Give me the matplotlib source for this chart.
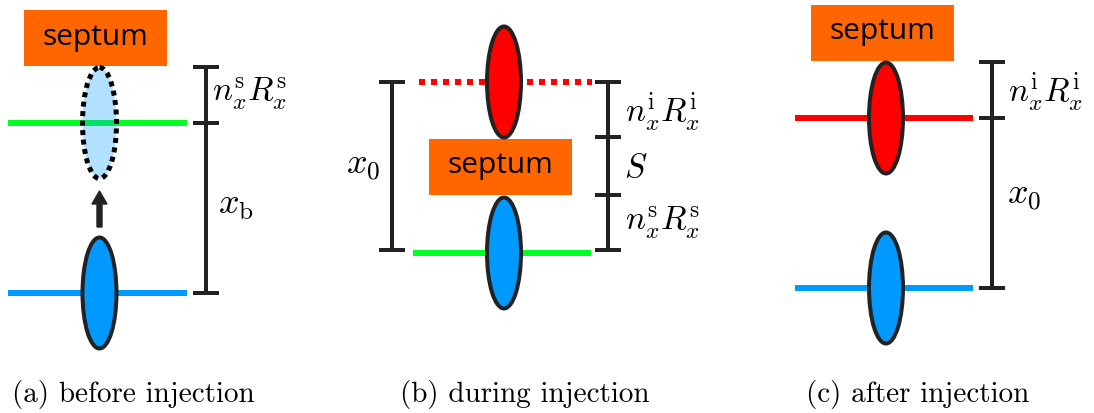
import matplotlib
matplotlib.use("Agg")
import matplotlib.pyplot as plt
from matplotlib.patches import Ellipse, Rectangle, FancyArrow

plt.rcParams['mathtext.fontset'] = 'cm'

# Beam / orbit levels (pixel rows) for each stage
levels_a = {"stored": 293, "bumped": 123}
levels_b = {"injected": 82, "stored": 253}
levels_c = {"injected": 118, "stored": 288}

captions = ["(a) before injection", "(b) during injection", "(c) after injection"]
caption_x = [12, 400, 806]

C_ORANGE = "#FF6600"
C_GREEN = "#00FF22"
C_BLUE = "#0099FF"
C_GHOST = (0.0, 0.6, 1.0, 0.3)
C_RED = "#FF0000"
C_DARK = "#222222"

PX = 0.72  # points per pixel at dpi 100

fig = plt.figure(figsize=(10.94, 4.13), dpi=100)
ax = fig.add_axes([0, 0, 1, 1])
ax.set_xlim(0, 1094)
ax.set_ylim(413, 0)
ax.axis("off")


def septum(x0, y0, x1, y1):
    ax.add_patch(Rectangle((x0, y0), x1 - x0, y1 - y0, facecolor=C_ORANGE,
                           edgecolor="none", zorder=2))
    ax.text((x0 + x1) / 2, (y0 + y1) / 2 - 1, "septum", family="Open Sans",
            fontsize=21.5, ha="center", va="center", color="black", zorder=3)


def beam(cx, cy, face, ls="solid", lw=4, edge=C_DARK):
    ax.add_patch(Ellipse((cx, cy), 34, 111, facecolor=face, edgecolor=edge,
                         lw=lw * PX, linestyle=ls, zorder=5))


def orbit(x0, x1, y, color, ls="solid"):
    ax.plot([x0, x1], [y, y], color=color, lw=6 * PX, linestyle=ls,
            solid_capstyle="butt", dash_capstyle="butt", zorder=4)


def bracket(x, ys, half=13):
    ax.plot([x, x], [min(ys), max(ys)], color=C_DARK, lw=4 * PX,
            solid_capstyle="butt", zorder=4)
    for y in ys:
        ax.plot([x - half, x + half], [y, y], color=C_DARK, lw=4 * PX,
                solid_capstyle="butt", zorder=4)


def label(x, y, s, size=24):
    ax.text(x, y, s, fontsize=size, ha="left", va="center", color="black")


# ---- (a) before injection
septum(24, 10, 167, 66)
orbit(8, 187, levels_a["bumped"], C_GREEN)
orbit(8, 187, levels_a["stored"], C_BLUE)
beam(99.5, levels_a["bumped"], C_GHOST, ls=(0, (1, 0.9)), lw=5, edge="black")
beam(99.5, levels_a["stored"], C_BLUE)
ax.add_patch(FancyArrow(99.5, 227, 0, -36, width=5, head_width=15,
                        head_length=13, length_includes_head=True,
                        color=C_DARK, zorder=4))
bracket(206, [67, levels_a["bumped"], levels_a["stored"]])
label(212, 94, r"$n_x^{\mathrm{s}}R_x^{\mathrm{s}}$")
label(218, 205, r"$x_{\mathrm{b}}$", size=26)

# ---- (b) during injection
orbit(419, 592, levels_b["injected"], C_RED, ls=(0, (1, 1)))
orbit(413, 591, levels_b["stored"], C_GREEN)
beam(504, levels_b["injected"], C_RED)
beam(504, levels_b["stored"], C_BLUE)
septum(429, 139, 572, 195)
bracket(392, [levels_b["injected"], 250])
bracket(608, [levels_b["injected"], 137, 195, 250])
label(346, 166, r"$x_0$", size=26)
label(625, 112, r"$n_x^{\mathrm{i}}R_x^{\mathrm{i}}$")
label(624, 167, r"$S$")
label(625, 223, r"$n_x^{\mathrm{s}}R_x^{\mathrm{s}}$")

# ---- (c) after injection
septum(811, 5, 954, 61)
orbit(795, 973, levels_c["injected"], C_RED)
orbit(795, 973, levels_c["stored"], C_BLUE)
beam(886, levels_c["injected"], C_RED)
beam(886, levels_c["stored"], C_BLUE)
bracket(992, [62, levels_c["injected"], levels_c["stored"]])
label(1008, 92, r"$n_x^{\mathrm{i}}R_x^{\mathrm{i}}$")
label(1007, 196, r"$x_0$", size=26)

# ---- captions
for x, cap in zip(caption_x, captions):
    ax.text(x, 402, cap, family="cmr10", fontsize=21, ha="left",
            va="baseline", color="black")

fig.savefig("out.png", dpi=100)
